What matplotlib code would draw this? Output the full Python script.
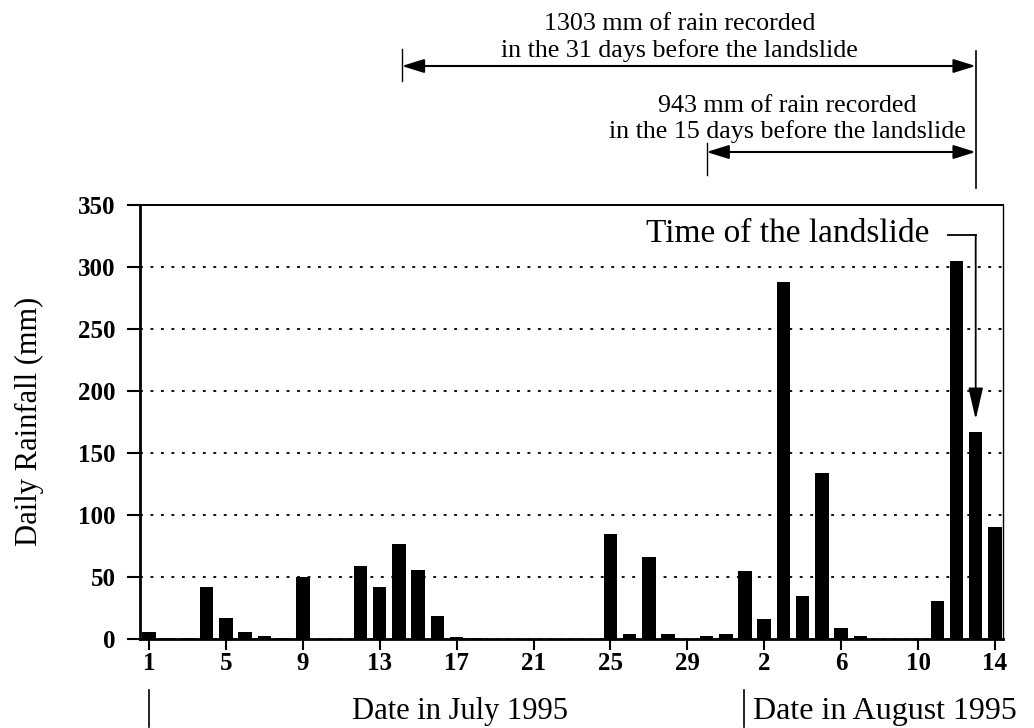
import matplotlib
matplotlib.use("Agg")
import matplotlib.pyplot as plt
import numpy as np
from matplotlib.transforms import blended_transform_factory

plt.rcParams["font.family"] = ["Liberation Serif", "DejaVu Serif"]

# Daily rainfall (mm), 1 July - 14 August 1995
july_rain = [5.5, 0.5, 0.5, 42, 17, 6, 2.5, 0.5, 50, 0, 0, 59, 42, 77, 56, 18.5,
             1.5, 0.5, 0.3, 0, 0, 0, 0, 0, 85, 4, 66, 4, 0, 2.5, 4]
august_rain = [55, 16, 288, 35, 134, 9, 2.5, 0, 0, 0, 30.5, 305, 167, 90]

tick_days = [1, 5, 9, 13, 17, 21, 25, 29, 33, 37, 41, 45]
tick_labels = ["1", "5", "9", "13", "17", "21", "25", "29", "2", "6", "10", "14"]
y_ticks = [0, 50, 100, 150, 200, 250, 300, 350]

rainfall = july_rain + august_rain
days = np.arange(1, len(rainfall) + 1)

W, H = 1034, 728
fig = plt.figure(figsize=(W / 100, H / 100), dpi=100)
ax = fig.add_axes([140 / W, 1 - 639 / H, (1003 - 140) / W, (639 - 205) / H])


def fy(py):
    """Figure fraction from a pixel row counted from the top."""
    return 1 - py / H


ax.bar(days, rainfall, width=0.7, color="black", zorder=3)
ax.set_xlim(0.53, 45.42)
ax.set_ylim(0, 350)
ax.set_yticks(y_ticks)
ax.set_xticks(tick_days)
ax.set_xticklabels(tick_labels)
ax.yaxis.grid(True, linestyle=(0, (1.6, 4.2)), color="black", lw=1.3, zorder=1)

for side, lw in (("left", 2.0), ("bottom", 2.0), ("top", 1.4), ("right", 1.0)):
    ax.spines[side].set_linewidth(lw)
    ax.spines[side].set_color("black")

ax.tick_params(axis="y", direction="out", length=9.4, width=1.5, pad=8,
               labelsize=18)
ax.tick_params(axis="x", direction="out", length=8, width=1.5, pad=1.5,
               labelsize=18)
for lab in ax.get_xticklabels() + ax.get_yticklabels():
    lab.set_fontweight("bold")

fig.text(29 / W, fy(421), "Daily Rainfall (mm)", rotation=90,
         ha="center", va="center", fontsize=22)

trans = blended_transform_factory(ax.transData, fig.transFigure)

# month labels beneath the axis, each with a marker line at the month start
ax.plot([1, 1], [fy(690), fy(727)], transform=trans, color="black", lw=1.2,
        clip_on=False)
ax.plot([31.95, 31.95], [fy(690), fy(727)], transform=trans, color="black",
        lw=1.2, clip_on=False)
ax.text(17.2, fy(712), "Date in July 1995", transform=trans, ha="center",
        va="center", fontsize=22)
ax.text(32.4, fy(712), "Date in August 1995", transform=trans, ha="left",
        va="center", fontsize=23)

# accumulation spans before the landslide
landslide_day = 44
arrow_style = dict(arrowstyle="<|-|>,head_length=0.9,head_width=0.28",
                   mutation_scale=15, lw=1.5, color="black",
                   shrinkA=0, shrinkB=0)
ax.plot([landslide_day, landslide_day], [fy(51), fy(188)], transform=trans,
        color="black", lw=1.2, clip_on=False)
ax.plot([14.15, 14.15], [fy(49), fy(81)], transform=trans, color="black",
        lw=1.0, clip_on=False)
ax.plot([30.0, 30.0], [fy(143), fy(175)], transform=trans, color="black",
        lw=1.0, clip_on=False)
ax.annotate("", xy=(landslide_day, fy(66)), xytext=(14.15, fy(66)),
            xycoords=trans, textcoords=trans, arrowprops=arrow_style,
            annotation_clip=False)
ax.annotate("", xy=(landslide_day, fy(152)), xytext=(30.0, fy(152)),
            xycoords=trans, textcoords=trans, arrowprops=arrow_style,
            annotation_clip=False)

note_size = 18.7
ax.text(28.6, fy(30), "1303 mm of rain recorded", transform=trans,
        ha="center", va="baseline", fontsize=note_size)
ax.text(28.6, fy(57), "in the 31 days before the landslide", transform=trans,
        ha="center", va="baseline", fontsize=note_size)
ax.text(34.2, fy(112), "943 mm of rain recorded", transform=trans,
        ha="center", va="baseline", fontsize=note_size)
ax.text(34.2, fy(138), "in the 15 days before the landslide", transform=trans,
        ha="center", va="baseline", fontsize=note_size)

# landslide marker
ax.text(41.6, 327, "Time of the landslide", ha="right", va="center",
        fontsize=24)
ax.plot([42.55, landslide_day], [326, 326], color="black", lw=1.3)
ax.annotate("", xy=(landslide_day, 177), xytext=(landslide_day, 326),
            arrowprops=dict(arrowstyle="-|>,head_length=1.3,head_width=0.3",
                            mutation_scale=15, lw=1.3, color="black",
                            shrinkA=0, shrinkB=0))

fig.savefig("out.png", dpi=100)
